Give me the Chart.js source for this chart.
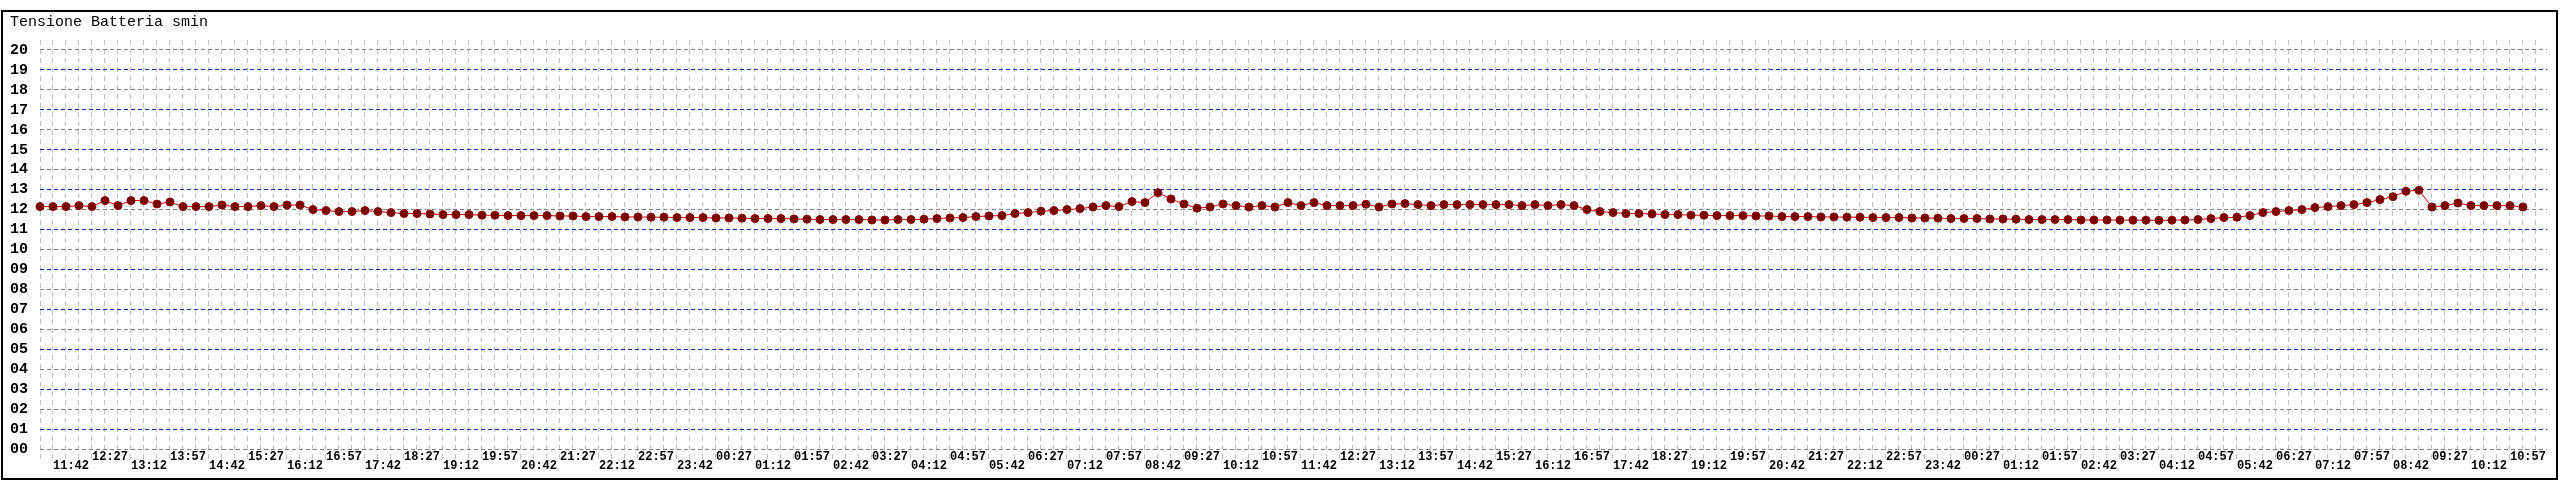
<!DOCTYPE html>
<html>
<head>
<meta charset="utf-8">
<script src="https://cdn.jsdelivr.net/npm/chart.js@4/dist/chart.umd.min.js"></script>
<style>
html,body{margin:0;padding:0;background:#fff;}
canvas{display:block;}
</style>
</head>
<body>
<canvas id="c" width="2560" height="480"></canvas>
<script>
const chartTitle = 'Tensione Batteria smin';

// one reading every 15 minutes, first reading at 11:27
const voltage = [
  12.15,12.15,12.15,12.2,12.15,12.45,12.2,12.45,12.45,12.28,
  12.38,12.15,12.15,12.15,12.23,12.15,12.15,12.2,12.15,12.23,
  12.23,12.0,11.95,11.9,11.9,11.95,11.9,11.85,11.8,11.8,
  11.78,11.75,11.75,11.75,11.72,11.72,11.7,11.7,11.7,11.7,
  11.68,11.68,11.65,11.65,11.65,11.63,11.63,11.62,11.62,11.6,
  11.6,11.6,11.58,11.58,11.57,11.55,11.55,11.55,11.53,11.52,
  11.5,11.5,11.5,11.5,11.48,11.48,11.5,11.5,11.52,11.55,
  11.58,11.6,11.65,11.68,11.7,11.8,11.85,11.92,11.95,12.0,
  12.05,12.13,12.2,12.15,12.4,12.35,12.85,12.53,12.28,12.07,
  12.13,12.28,12.2,12.13,12.2,12.13,12.35,12.2,12.35,12.2,
  12.2,12.2,12.27,12.13,12.28,12.3,12.25,12.2,12.25,12.25,
  12.25,12.25,12.25,12.25,12.2,12.25,12.2,12.25,12.2,12.0,
  11.9,11.85,11.8,11.8,11.78,11.75,11.75,11.72,11.72,11.7,
  11.7,11.7,11.68,11.68,11.65,11.65,11.65,11.63,11.63,11.62,
  11.62,11.6,11.6,11.6,11.58,11.58,11.57,11.55,11.55,11.55,
  11.53,11.53,11.52,11.5,11.5,11.5,11.5,11.48,11.48,11.48,
  11.47,11.47,11.47,11.46,11.47,11.48,11.5,11.55,11.6,11.62,
  11.7,11.85,11.9,11.95,12.0,12.1,12.15,12.2,12.25,12.35,
  12.5,12.65,12.92,12.97,12.13,12.2,12.33,12.2,12.2,12.2,
  12.2,12.13
];

// x tick labels: placed on reading 1, 4, 7, ... (every 45 minutes)
const timeLabels = [
  '11:42','12:27','13:12','13:57','14:42','15:27','16:12','16:57',
  '17:42','18:27','19:12','19:57','20:42','21:27','22:12','22:57',
  '23:42','00:27','01:12','01:57','02:42','03:27','04:12','04:57',
  '05:42','06:27','07:12','07:57','08:42','09:27','10:12','10:57',
  '11:42','12:27','13:12','13:57','14:42','15:27','16:12','16:57',
  '17:42','18:27','19:12','19:57','20:42','21:27','22:12','22:57',
  '23:42','00:27','01:12','01:57','02:42','03:27','04:12','04:57',
  '05:42','06:27','07:12','07:57','08:42','09:27','10:12','10:57'
];
const labelFirstIndex = 1;
const labelStep = 3;

const yTickLabels = ['00','01','02','03','04','05','06','07','08','09','10',
  '11','12','13','14','15','16','17','18','19','20'];

const points = voltage.map((v, i) => ({x: i, y: v}));

const frame = {
  id: 'frame',
  beforeDraw(chart) {
    const c = chart.ctx;
    c.save();
    c.fillStyle = '#ffffff';
    c.fillRect(0, 0, chart.width, chart.height);
    c.restore();
  },
  afterDraw(chart) {
    const c = chart.ctx;
    c.save();
    c.strokeStyle = '#000000';
    c.lineWidth = 2;
    c.strokeRect(2, 11, chart.width - 5, chart.height - 12);
    c.restore();
  }
};

new Chart(document.getElementById('c'), {
  type: 'line',
  data: {
    datasets: [{
      data: points,
      borderColor: '#cc0000',
      borderWidth: 1,
      pointRadius: 4,
      pointBackgroundColor: '#7a0000',
      pointBorderColor: '#8a0000',
      pointBorderWidth: 1,
      tension: 0,
      clip: false
    }]
  },
  options: {
    responsive: false,
    animation: false,
    devicePixelRatio: 1,
    layout: {padding: {left: 10, right: 13, top: 0, bottom: 0}},
    plugins: {
      legend: {display: false},
      tooltip: {enabled: false},
      title: {
        display: true,
        text: chartTitle,
        align: 'start',
        color: '#000',
        font: {family: 'Liberation Mono', size: 15, weight: 'normal', lineHeight: 1.2},
        padding: {top: 13, bottom: 9}
      }
    },
    scales: {
      x: {
        type: 'linear',
        min: 0,
        max: 192.85,
        afterBuildTicks(scale) {
          const t = [];
          for (let i = 0; i <= 192; i++) t.push({value: i});
          scale.ticks = t;
        },
        afterFit(scale) { scale.height = 20; },
        afterUpdate(scale) { scale._computeLabelArea = function () { return undefined; }; },
        grid: {
          color: '#c0c0c0',
          lineWidth: 1,
          drawTicks: false
        },
        border: {display: false, dash: [5, 4]},
        ticks: {
          autoSkip: false,
          maxRotation: 0,
          minRotation: 0,
          align: 'start',
          padding: -7,
          color: '#000',
          font: {family: 'Liberation Mono', size: 12, weight: 'bold', lineHeight: '9.5px'},
          callback(value) {
            const k = value - labelFirstIndex;
            if (k < 0 || k % labelStep !== 0) return '';
            const j = k / labelStep;
            const s = timeLabels[j];
            if (s === undefined) return '';
            return j % 2 === 0 ? ['', s] : [s];
          }
        }
      },
      y: {
        min: -0.5,
        max: 20.5,
        afterBuildTicks(scale) {
          const t = [];
          for (let i = 0; i < yTickLabels.length; i++) t.push({value: i});
          scale.ticks = t;
        },
        afterFit(scale) { scale.width = 30; },
        grid: {
          color: (ctx) => (ctx.tick && ctx.tick.value % 2 === 1) ? '#0033cc' : '#808080',
          lineWidth: 1,
          drawTicks: false
        },
        border: {display: false, dash: [4, 3]},
        ticks: {
          padding: 12,
          color: '#000',
          font: {family: 'Liberation Mono', size: 15, weight: 'bold'},
          callback(value) { return yTickLabels[value]; }
        }
      }
    }
  },
  plugins: [frame]
});
</script>
</body>
</html>
